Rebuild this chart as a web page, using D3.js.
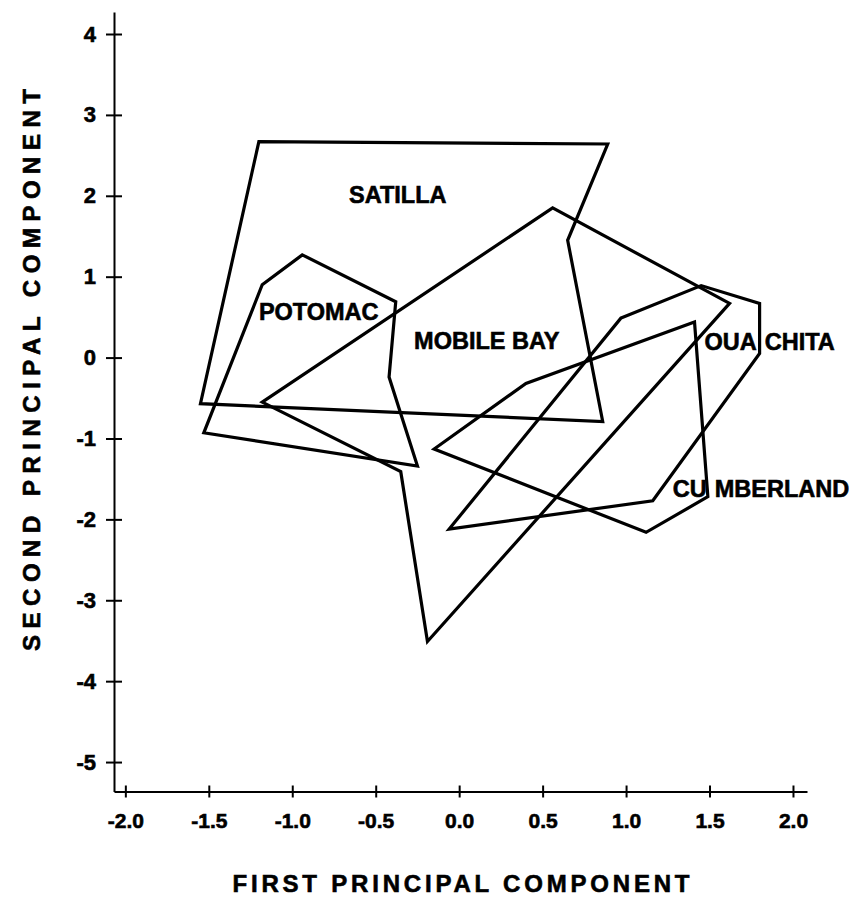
<!DOCTYPE html>
<html>
<head>
<meta charset="utf-8">
<script src="https://cdn.jsdelivr.net/npm/d3@7"></script>
<style>
  html, body { margin: 0; padding: 0; background: #fff; }
  svg { display: block; }
  text { font-family: "Liberation Sans", Arial, Helvetica, sans-serif; font-weight: bold; fill: #000; stroke: #000; stroke-width: 0.6px; }
</style>
</head>
<body>
<svg id="chart" width="850" height="900"></svg>
<script>
// Tick values and their printed labels
const xTickValues = [-2.0, -1.5, -1.0, -0.5, 0.0, 0.5, 1.0, 1.5, 2.0];
const xTickLabels = ["-2.0", "-1.5", "-1.0", "-0.5", "0.0", "0.5", "1.0", "1.5", "2.0"];
const yTickValues = [4, 3, 2, 1, 0, -1, -2, -3, -4, -5];
const yTickLabels = ["4", "3", "2", "1", "0", "-1", "-2", "-3", "-4", "-5"];

// Outline (convex hull) of each drainage sample: [PC1, PC2] vertices
const satilla    = [[-1.20, 2.67], [0.89, 2.64], [0.65, 1.45], [0.86, -0.79], [-1.55, -0.57]];
const potomac    = [[-0.94, 1.27], [-0.38, 0.69], [-0.42, -0.24], [-0.25, -1.34], [-1.53, -0.93], [-1.18, 0.90]];
const mobileBay  = [[-1.18, -0.55], [0.56, 1.85], [1.62, 0.67], [-0.19, -3.51], [-0.35, -1.41]];
const cumberland = [[0.97, 0.49], [1.45, 0.89], [1.80, 0.67], [1.80, 0.05], [1.16, -1.77], [-0.06, -2.12]];
const ouachita   = [[1.41, 0.44], [1.49, -1.72], [1.12, -2.16], [-0.15, -1.13], [0.40, -0.32]];

// Region names, split where a hull edge runs through the word, and their anchor (PC1, PC2)
const regionNames   = [["SATILLA"], ["POTOMAC"], ["MOBILE BAY"], ["OUA", "CHITA"], ["CU", "MBERLAND"]];
const labelAnchors  = [[-0.66, 1.91], [-1.20, 0.46], [-0.27, 0.11], [1.47, 0.09], [1.28, -1.72]];

const hulls = [satilla, potomac, mobileBay, ouachita, cumberland];

const svg = d3.select("#chart");

const x = d3.scaleLinear().domain([-2.068, 2.084]).range([114, 807]);
const y = d3.scaleLinear().domain([-5.364, 4.272]).range([791.5, 12]);

// Axes
const xAxis = d3.axisBottom(x)
  .tickValues(xTickValues)
  .tickFormat((d, i) => xTickLabels[i])
  .tickSizeInner(6)
  .tickSizeOuter(0)
  .tickPadding(16);

const yAxis = d3.axisLeft(y)
  .tickValues(yTickValues)
  .tickFormat((d, i) => yTickLabels[i])
  .tickSizeInner(8)
  .tickSizeOuter(0)
  .tickPadding(10);

const gx = svg.append("g")
  .attr("transform", `translate(0,${y.range()[0]})`)
  .call(xAxis);
gx.selectAll(".tick line").attr("y1", -6);

const gy = svg.append("g")
  .attr("transform", `translate(${x.range()[0]},0)`)
  .call(yAxis);
gy.selectAll(".tick line").attr("x1", 8);

[gx, gy].forEach(g => {
  g.select(".domain").attr("stroke", "#000").attr("stroke-width", 2);
  g.selectAll(".tick line").attr("stroke", "#000").attr("stroke-width", 2);
  g.selectAll(".tick text")
    .style("font-family", "'Liberation Sans', Arial, sans-serif")
    .style("font-weight", "bold")
    .attr("fill", "#000");
});
gx.selectAll(".tick text").style("font-size", "21px");
gy.selectAll(".tick text").style("font-size", "22px");

// Hull outlines
const line = d3.line().x(d => x(d[0])).y(d => y(d[1])).curve(d3.curveLinearClosed);

svg.append("g")
  .selectAll("path")
  .data(hulls)
  .join("path")
  .attr("d", line)
  .attr("fill", "none")
  .attr("stroke", "#000")
  .attr("stroke-width", 3.2)
  .attr("stroke-linejoin", "miter");

// Region labels
const labels = svg.append("g")
  .selectAll("text")
  .data(regionNames)
  .join("text")
  .attr("x", (d, i) => x(labelAnchors[i][0]))
  .attr("y", (d, i) => y(labelAnchors[i][1]))
  .style("font-size", "23.5px");

labels.selectAll("tspan")
  .data(d => d)
  .join("tspan")
  .attr("dx", (d, i) => i === 0 ? 0 : 8)
  .text(d => d);

// Axis titles
svg.append("text")
  .attr("x", 461)
  .attr("y", 892)
  .attr("text-anchor", "middle")
  .attr("textLength", 457)
  .attr("lengthAdjust", "spacing")
  .style("font-size", "24px")
  .text("FIRST PRINCIPAL COMPONENT");

svg.append("text")
  .attr("transform", "translate(40,370) rotate(-90)")
  .attr("text-anchor", "middle")
  .attr("textLength", 562)
  .attr("lengthAdjust", "spacing")
  .style("font-size", "24px")
  .text("SECOND PRINCIPAL COMPONENT");
</script>
</body>
</html>
